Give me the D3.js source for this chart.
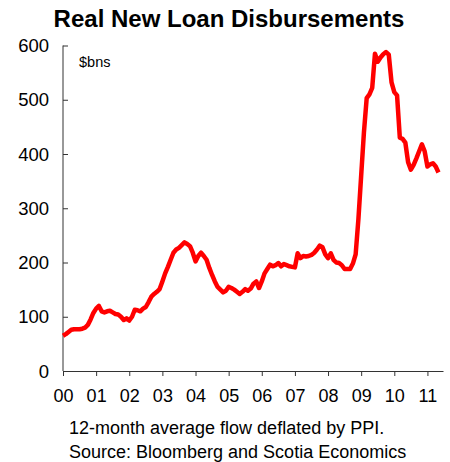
<!DOCTYPE html>
<html>
<head>
<meta charset="utf-8">
<script src="https://cdn.jsdelivr.net/npm/d3@7"></script>
<style>
  html, body { margin: 0; padding: 0; background: #fff; }
  svg { display: block; font-family: "Liberation Sans", Arial, sans-serif; }
</style>
</head>
<body>
<svg id="chart" width="450" height="462"></svg>
<script>
// Monthly values, $bns, Jan 2000 - May 2011
const startYear = 2000;
const values2000 = [65, 68, 72, 76, 77, 77, 77, 78, 80, 85, 95, 107];
const values2001 = [115, 120, 110, 108, 110, 111, 108, 105, 104, 100, 94, 97];
const values2002 = [93, 100, 113, 112, 110, 115, 118, 127, 137, 142, 146, 151];
const values2003 = [165, 180, 192, 205, 218, 224, 227, 232, 237, 234, 230, 218];
const values2004 = [202, 212, 218, 212, 205, 190, 177, 165, 155, 150, 145, 148];
const values2005 = [155, 153, 150, 146, 142, 146, 151, 148, 152, 161, 165, 153];
const values2006 = [165, 180, 188, 196, 193, 195, 199, 193, 197, 195, 193, 192];
const values2007 = [191, 217, 208, 212, 211, 212, 214, 218, 224, 231, 228, 215];
const values2008 = [208, 217, 205, 200, 199, 195, 188, 188, 188, 198, 215, 280];
const values2009 = [360, 440, 503, 510, 522, 585, 570, 578, 584, 588, 583, 532];
const values2010 = [514, 508, 430, 428, 421, 385, 371, 380, 392, 405, 418, 405];
const values2011 = [377, 381, 383, 377, 366];

const yTicks = [0, 100, 200, 300, 400, 500, 600];
const xTickLabels = ["00", "01", "02", "03", "04", "05", "06", "07", "08", "09", "10", "11"];

const title = "Real New Loan Disbursements";
const unitLabel = "$bns";
const notes = [
  "12-month average flow deflated by PPI.",
  "Source: Bloomberg and Scotia Economics"
];

const series = [].concat(values2000, values2001, values2002, values2003, values2004,
  values2005, values2006, values2007, values2008, values2009, values2010, values2011)
  .map((v, i) => ({ t: startYear + i / 12, v }));

const svg = d3.select("#chart");

const margin = { left: 63, right: 7, top: 45.5, bottom: 91 };
const width = 450;
const height = 462;

const x = d3.scaleLinear()
  .domain([2000, 2011.47])
  .range([margin.left, width - margin.right]);

const y = d3.scaleLinear()
  .domain([0, 600])
  .range([height - margin.bottom, margin.top]);

// title
svg.append("text")
  .attr("x", 229)
  .attr("y", 27)
  .attr("text-anchor", "middle")
  .attr("font-size", "24px")
  .attr("font-weight", "bold")
  .attr("fill", "#000")
  .text(title);

// y axis, ticks pointing inward
const yAxis = svg.append("g")
  .attr("transform", `translate(${margin.left},0)`)
  .call(d3.axisRight(y).tickValues(yTicks).tickSize(5).tickFormat(""));
yAxis.select(".domain").attr("stroke", "#333").attr("d", `M0,${y(600)}V${y(0)}`);
yAxis.selectAll(".tick line").attr("stroke", "#333");

svg.append("g").selectAll("text")
  .data(yTicks)
  .join("text")
  .attr("x", 49)
  .attr("y", d => y(d) + 6.5)
  .attr("text-anchor", "end")
  .attr("font-size", "18.5px")
  .attr("fill", "#000")
  .text(d => d);

// x axis
const xAxis = svg.append("g")
  .attr("transform", `translate(0,${y(0)})`)
  .call(d3.axisBottom(x)
    .tickValues(d3.range(2000, 2012))
    .tickSize(5)
    .tickSizeOuter(0)
    .tickFormat((d, i) => xTickLabels[i]));
xAxis.select(".domain").attr("stroke", "#333");
xAxis.selectAll(".tick line").attr("stroke", "#333");
xAxis.selectAll(".tick text")
  .attr("y", 31)
  .attr("dy", 0)
  .attr("font-size", "18px")
  .attr("font-family", "\"Liberation Sans\", Arial, sans-serif")
  .attr("fill", "#000");

// unit label
svg.append("text")
  .attr("x", 79)
  .attr("y", 67)
  .attr("font-size", "14.5px")
  .attr("fill", "#000")
  .text(unitLabel);

// line
const line = d3.line()
  .x(d => x(d.t))
  .y(d => y(d.v));

svg.append("path")
  .datum(series)
  .attr("fill", "none")
  .attr("stroke", "#ff0000")
  .attr("stroke-width", 4.5)
  .attr("stroke-linejoin", "round")
  .attr("d", line);

// notes
svg.append("g").selectAll("text")
  .data(notes)
  .join("text")
  .attr("x", 69)
  .attr("y", (d, i) => 434 + i * 24)
  .attr("font-size", "18px")
  .attr("fill", "#000")
  .text(d => d);
</script>
</body>
</html>
